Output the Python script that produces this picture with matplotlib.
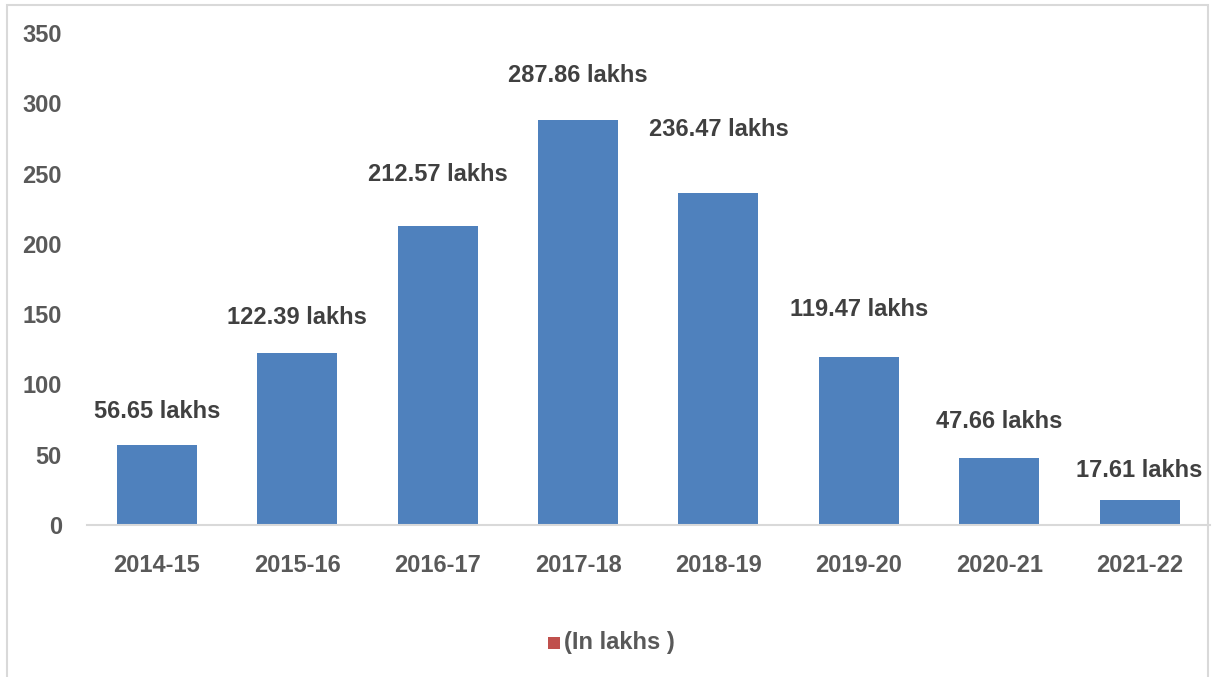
import numpy as np
import matplotlib.pyplot as plt
from matplotlib.patches import Rectangle

years = ['2014-15', '2015-16', '2016-17', '2017-18',
         '2018-19', '2019-20', '2020-21', '2021-22']
values = [56.65, 122.39, 212.57, 287.86, 236.47, 119.47, 47.66, 17.61]
# vertical gap between bar top and its label (label positions were hand-moved)
label_gap = [24, 25, 37, 32, 45, 34, 26, 21]

plt.rcParams['font.family'] = ['Liberation Sans', 'DejaVu Sans']
plt.rcParams['font.weight'] = 'bold'

fig = plt.figure(figsize=(12.12, 6.77), dpi=100)
ax = fig.add_axes([0.0716, 0.2245, 0.9266, 0.7265])

x = np.arange(len(years))
ax.bar(x, values, width=0.57, color='#4F81BD', zorder=2)

for xi, v, g in zip(x, values, label_gap):
    ax.text(xi, v + g, f'{v:.2f} lakhs', ha='center', va='center',
            fontsize=17, fontweight='bold', color='#404040')

ax.set_xlim(-0.5, len(years) - 0.5)
ax.set_ylim(0, 350)
ax.set_yticks(range(0, 351, 50))
ax.set_xticks(x)
ax.set_xticklabels(years)
ax.tick_params(axis='both', length=0, labelsize=17, labelcolor='#595959')
ax.tick_params(axis='y', pad=18)
ax.tick_params(axis='x', pad=21)
for lab in ax.get_xticklabels() + ax.get_yticklabels():
    lab.set_fontweight('bold')

for side in ['top', 'right', 'left']:
    ax.spines[side].set_visible(False)
ax.spines['bottom'].set_color('#D9D9D9')
ax.spines['bottom'].set_linewidth(1.5)

# legend
fig.add_artist(Rectangle((0.4525, 0.041), 0.0099, 0.0177, transform=fig.transFigure,
                         facecolor='#C0504D', edgecolor='none'))
fig.text(0.4655, 0.051, '(In lakhs )', ha='left', va='center',
         fontsize=17, fontweight='bold', color='#595959')

# chart area border
fig.add_artist(Rectangle((0.0055, -0.05), 0.9915, 1.043, transform=fig.transFigure,
                         facecolor='none', edgecolor='#D9D9D9', linewidth=1.5))

plt.savefig('out.png', dpi=100, facecolor='white')
